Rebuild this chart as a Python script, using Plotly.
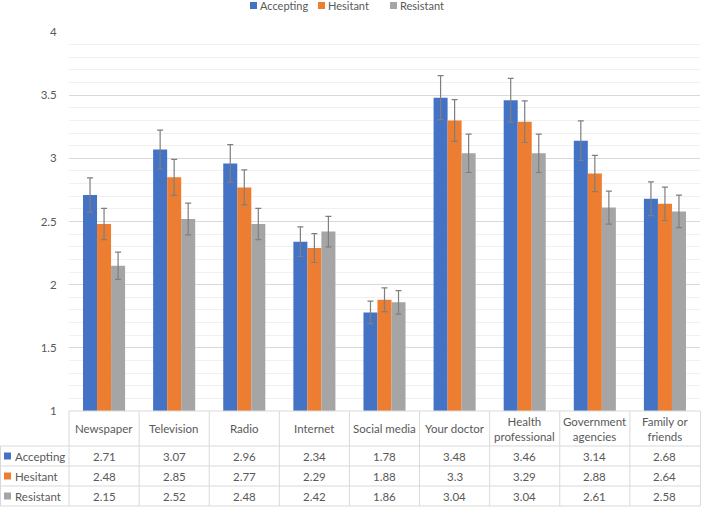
import plotly.graph_objects as go

categories = ["Newspaper", "Television", "Radio", "Internet", "Social media",
              "Your doctor", "Health professional", "Government agencies", "Family or friends"]
category_labels = ["Newspaper", "Television", "Radio", "Internet", "Social media",
                   "Your doctor", "Health<br>professional", "Government<br>agencies", "Family or<br>friends"]
series_names = ["Accepting", "Hesitant", "Resistant"]
accepting = [2.71, 3.07, 2.96, 2.34, 1.78, 3.48, 3.46, 3.14, 2.68]
hesitant = [2.48, 2.85, 2.77, 2.29, 1.88, 3.3, 3.29, 2.88, 2.64]
resistant = [2.15, 2.52, 2.48, 2.42, 1.86, 3.04, 3.04, 2.61, 2.58]
series_values = [accepting, hesitant, resistant]
table_text = [["2.71", "3.07", "2.96", "2.34", "1.78", "3.48", "3.46", "3.14", "2.68"],
              ["2.48", "2.85", "2.77", "2.29", "1.88", "3.3", "3.29", "2.88", "2.64"],
              ["2.15", "2.52", "2.48", "2.42", "1.86", "3.04", "3.04", "2.61", "2.58"]]
error_percent = 5
y_ticks = [1, 1.5, 2, 2.5, 3, 3.5, 4]
y_tick_labels = ["1", "1.5", "2", "2.5", "3", "3.5", "4"]

colors = ["#4472C4", "#ED7D31", "#A5A5A5"]
FONT = "Lato"
FS = 11.5
TXT = "#595959"
W, H = 701, 507
L, R, T, B = 69, 1, 32, 96
PW = W - L - R
PH = H - T - B
AXIS_BOTTOM = H - B


def px(xp):
    return (xp - L) / PW


def py(yp):
    return (AXIS_BOTTOM - yp) / PH


fig = go.Figure()
idx = list(range(len(categories)))
for name, vals, col in zip(series_names, series_values, colors):
    fig.add_trace(go.Bar(
        x=idx, y=vals, name=name, marker=dict(color=col, line=dict(width=0)),
        error_y=dict(type="percent", value=error_percent, color="#7F7F7F",
                     thickness=1.2, width=3),
        showlegend=False,
    ))

shapes = []
annotations = []
line_col = "#D9D9D9"
n = len(categories)
row_lines = [446, 466, 486, 506]
shapes.append(dict(type="line", xref="paper", yref="paper", x0=0, x1=1,
                   y0=0, y1=0, line=dict(color=line_col, width=1)))
for yl in row_lines:
    shapes.append(dict(type="line", xref="paper", yref="paper", x0=px(0), x1=1,
                       y0=py(yl), y1=py(yl), line=dict(color=line_col, width=1)))
shapes.append(dict(type="line", xref="paper", yref="paper", x0=px(0.5), x1=px(0.5),
                   y0=py(446), y1=py(506), line=dict(color=line_col, width=1)))
for k in range(n + 1):
    xx = k / n
    if k == n:
        xx = px(W - 0.5)
    shapes.append(dict(type="line", xref="paper", yref="paper", x0=xx, x1=xx,
                       y0=0, y1=py(506), line=dict(color=line_col, width=1)))

for k, lab in enumerate(category_labels):
    annotations.append(dict(x=(k + 0.5) / n, y=py(428.5), xref="paper", yref="paper",
                            text=lab, showarrow=False, xanchor="center", yanchor="middle",
                            font=dict(family=FONT, size=FS, color=TXT)))
row_centers = [456, 476, 496]
for r, (name, col) in enumerate(zip(series_names, colors)):
    yc = row_centers[r]
    shapes.append(dict(type="rect", xref="paper", yref="paper", x0=px(4), x1=px(11),
                       y0=py(yc + 3.5), y1=py(yc - 3.5), fillcolor=col, line=dict(width=0)))
    annotations.append(dict(x=px(13), y=py(yc), xref="paper", yref="paper",
                            text=name, showarrow=False, xanchor="left", yanchor="middle",
                            font=dict(family=FONT, size=FS, color=TXT)))
    for k in range(n):
        annotations.append(dict(x=(k + 0.5) / n, y=py(yc), xref="paper", yref="paper",
                                text=table_text[r][k], showarrow=False,
                                xanchor="center", yanchor="middle",
                                font=dict(family=FONT, size=FS, color=TXT)))

leg_x = [250, 318, 390]
for name, col, lx in zip(series_names, colors, leg_x):
    shapes.append(dict(type="rect", xref="paper", yref="paper", x0=px(lx), x1=px(lx + 7),
                       y0=py(9), y1=py(2), fillcolor=col, line=dict(width=0)))
    annotations.append(dict(x=px(lx + 8), y=py(5.5), xref="paper", yref="paper",
                            text=name, showarrow=False, xanchor="left", yanchor="middle",
                            font=dict(family=FONT, size=11, color=TXT)))

fig.update_layout(
    width=W, height=H,
    margin=dict(l=L, r=R, t=T, b=B),
    paper_bgcolor="white", plot_bgcolor="white",
    barmode="group", bargap=0.4, bargroupgap=0,
    shapes=shapes, annotations=annotations,
    showlegend=False,
    xaxis=dict(range=[-0.5, n - 0.5], showticklabels=False, showgrid=False,
               zeroline=False, showline=False, ticks=""),
    yaxis=dict(range=[1, 4], tickvals=y_ticks, ticktext=y_tick_labels,
               showgrid=True, gridcolor="#D9D9D9", gridwidth=1,
               minor=dict(dtick=0.1, showgrid=True, gridcolor="#F0F0F0", gridwidth=1),
               zeroline=False, showline=False,
               ticks="outside", ticklen=9, tickcolor="rgba(0,0,0,0)",
               tickfont=dict(family=FONT, size=FS, color=TXT)),
)

fig.write_html("out.html", config={"displayModeBar": False},
               post_script="document.body.style.margin='0';")
